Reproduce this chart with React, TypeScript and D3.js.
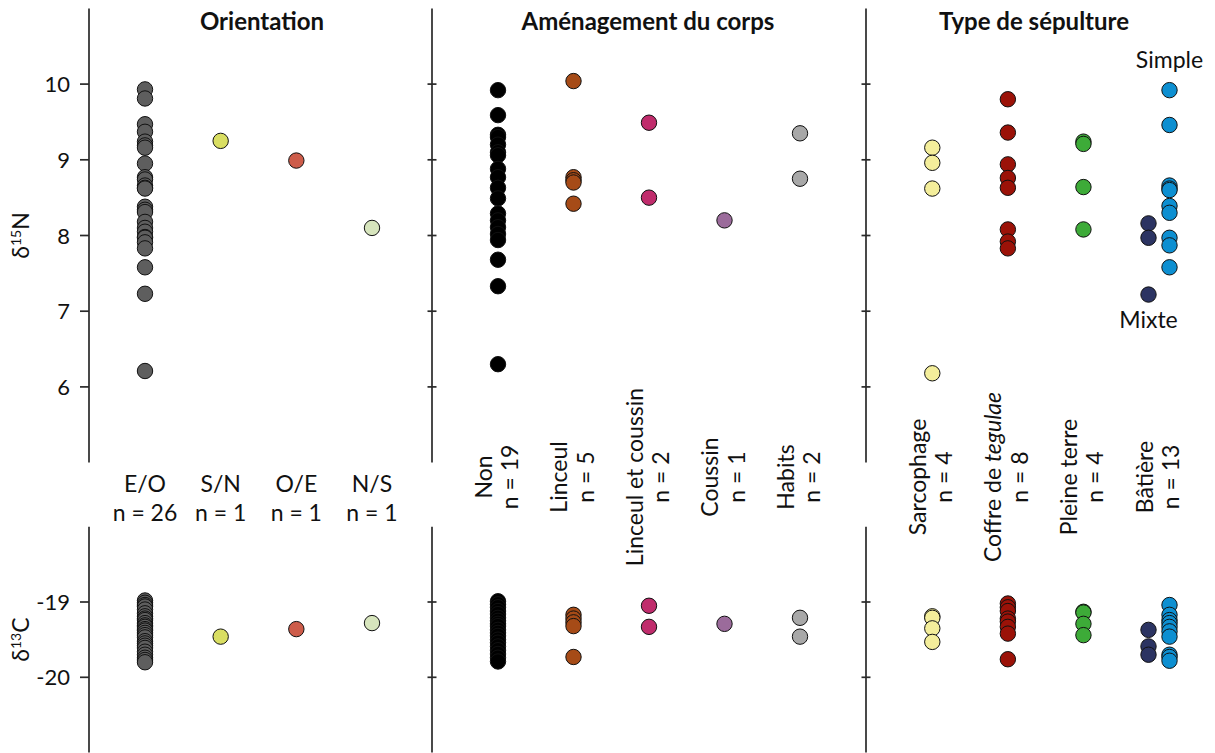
import React from "react";
import * as d3 from "d3";

// ---------- Data (δ15N top panel, δ13C bottom panel) ----------
const orientationCats = ["E/O", "S/N", "O/E", "N/S"];
const orientationCounts = [26, 1, 1, 1];
const corpsCats = ["Non", "Linceul", "Linceul et coussin", "Coussin", "Habits"];
const corpsCounts = [19, 5, 2, 1, 2];
const sepultureCats = ["Sarcophage", "Coffre de tegulae", "Pleine terre", "Bâtière"];
const sepultureCounts = [4, 8, 4, 13];

const nEO = [9.93, 9.81, 9.47, 9.37, 9.24, 9.19, 9.16, 8.95, 8.77, 8.74, 8.66, 8.63, 8.62, 8.38, 8.34, 8.31, 8.18, 8.10, 8.05, 7.98, 7.97, 7.91, 7.83, 7.58, 7.23, 6.21];
const cEO = [-18.98, -19.01, -19.04, -19.06, -19.1, -19.15, -19.19, -19.22, -19.24, -19.28, -19.31, -19.33, -19.36, -19.38, -19.41, -19.44, -19.47, -19.52, -19.55, -19.58, -19.61, -19.66, -19.7, -19.74, -19.77, -19.8];
const nSN = [9.25];
const cSN = [-19.46];
const nOE = [8.99];
const cOE = [-19.36];
const nNS = [8.1];
const cNS = [-19.28];

const nNon = [9.92, 9.59, 9.33, 9.3, 9.2, 9.1, 9.06, 8.88, 8.77, 8.63, 8.49, 8.29, 8.2, 8.11, 8.02, 7.94, 7.68, 7.33, 6.3];
const cNon = [-18.99, -19.03, -19.07, -19.12, -19.16, -19.21, -19.25, -19.29, -19.32, -19.37, -19.41, -19.45, -19.5, -19.54, -19.59, -19.64, -19.69, -19.74, -19.79];
const nLinceul = [10.04, 8.77, 8.73, 8.7, 8.42];
const cLinceul = [-19.17, -19.22, -19.27, -19.32, -19.73];
const nLinceulCoussin = [9.49, 8.5];
const cLinceulCoussin = [-19.05, -19.33];
const nCoussin = [8.2];
const cCoussin = [-19.29];
const nHabits = [9.35, 8.75];
const cHabits = [-19.21, -19.46];

const nSarcophage = [9.16, 8.96, 8.62, 6.18];
const cSarcophage = [-19.19, -19.21, -19.35, -19.53];
const nCoffre = [9.8, 9.36, 8.94, 8.76, 8.63, 8.08, 7.92, 7.83];
const cCoffre = [-19.02, -19.07, -19.12, -19.22, -19.26, -19.33, -19.42, -19.76];
const nPleine = [9.24, 9.21, 8.64, 8.08];
const cPleine = [-19.13, -19.14, -19.29, -19.44];
const nMixte = [8.16, 7.97, 7.22];
const cMixte = [-19.37, -19.59, -19.7];
const nSimple = [9.92, 9.46, 8.66, 8.62, 8.6, 8.39, 8.3, 7.97, 7.87, 7.58];
const cSimple = [-19.04, -19.17, -19.24, -19.28, -19.33, -19.39, -19.46, -19.7, -19.73, -19.78];

const nTicks = [6, 7, 8, 9, 10];
const cTicks = [-19, -20];

type Series = { panel: number; cat: string; sub: number; color: string; n: number[]; c: number[] };
const series: Series[] = [
  { panel: 0, cat: "E/O", sub: 0, color: "#5e5e5e", n: nEO, c: cEO },
  { panel: 0, cat: "S/N", sub: 0, color: "#d9de62", n: nSN, c: cSN },
  { panel: 0, cat: "O/E", sub: 0, color: "#cd5c4a", n: nOE, c: cOE },
  { panel: 0, cat: "N/S", sub: 0, color: "#d7e5bd", n: nNS, c: cNS },
  { panel: 1, cat: "Non", sub: 0, color: "#000000", n: nNon, c: cNon },
  { panel: 1, cat: "Linceul", sub: 0, color: "#a64b17", n: nLinceul, c: cLinceul },
  { panel: 1, cat: "Linceul et coussin", sub: 0, color: "#c02c6c", n: nLinceulCoussin, c: cLinceulCoussin },
  { panel: 1, cat: "Coussin", sub: 0, color: "#9b6b9b", n: nCoussin, c: cCoussin },
  { panel: 1, cat: "Habits", sub: 0, color: "#a8a8a8", n: nHabits, c: cHabits },
  { panel: 2, cat: "Sarcophage", sub: 0, color: "#f4ee9b", n: nSarcophage, c: cSarcophage },
  { panel: 2, cat: "Coffre de tegulae", sub: 0, color: "#9b1208", n: nCoffre, c: cCoffre },
  { panel: 2, cat: "Pleine terre", sub: 0, color: "#3dab38", n: nPleine, c: cPleine },
  { panel: 2, cat: "Bâtière", sub: -1, color: "#2c3462", n: nMixte, c: cMixte },
  { panel: 2, cat: "Bâtière", sub: 1, color: "#0d8fd1", n: nSimple, c: cSimple },
];

// ---------- Layout ----------
const W = 1215;
const H = 753;
const FONT = "Lato, 'Open Sans', sans-serif";
const FS = 23;
const FS_TICK = 22;
const R = 7.7;

const yN = d3.scaleLinear().domain([5, 11]).range([462.6, 8.4]);
const yC = d3.scaleLinear().domain([-21, -18]).range([752.6, 526.7]);

const xPanels = [
  d3.scalePoint<string>().domain(orientationCats).range([145, 372]),
  d3.scalePoint<string>().domain(corpsCats).range([498, 800]),
  d3.scalePoint<string>().domain(sepultureCats).range([932.3, 1159]),
];
const axisX = [89, 432, 866];
const titles = [
  { text: "Orientation", x: 262 },
  { text: "Aménagement du corps", x: 648 },
  { text: "Type de sépulture", x: 1034 },
];

export default function App() {
  const catX = (s: Series) => (xPanels[s.panel](s.cat) as number) + s.sub * 10.5;

  return (
    <svg width={W} height={H} style={{ position: "absolute", left: 0, top: 0, background: "#fff" }} fontFamily={FONT}>
      {/* axis & divider lines */}
      {axisX.map((x, i) => (
        <g key={"ax" + i} stroke="#2a2a2a" strokeWidth={1.7}>
          <line x1={x} x2={x} y1={yN(11)} y2={yN(5)} />
          <line x1={x} x2={x} y1={yC(-18)} y2={yC(-21)} />
          {nTicks.map((t) => (
            <line key={"tn" + t} x1={i === 0 ? x - 9 : x - 4.5} x2={i === 0 ? x : x + 4.5} y1={yN(t)} y2={yN(t)} />
          ))}
          {cTicks.map((t) => (
            <line key={"tc" + t} x1={i === 0 ? x - 9 : x - 4.5} x2={i === 0 ? x : x + 4.5} y1={yC(t)} y2={yC(t)} />
          ))}
        </g>
      ))}

      {/* tick labels */}
      {nTicks.map((t) => (
        <text key={"ln" + t} x={70} y={yN(t) + 8} textAnchor="end" fontSize={FS_TICK} fill="#111">
          {t}
        </text>
      ))}
      {cTicks.map((t) => (
        <text key={"lc" + t} x={70} y={yC(t) + 8} textAnchor="end" fontSize={FS_TICK} fill="#111">
          {t}
        </text>
      ))}

      {/* axis titles */}
      <text transform={`translate(29,${yN(8)}) rotate(-90)`} textAnchor="middle" fontSize={FS} fill="#111">
        δ<tspan fontSize={14} dy={-8}>15</tspan>
        <tspan dy={8}>N</tspan>
      </text>
      <text transform={`translate(29,${yC(-19.5)}) rotate(-90)`} textAnchor="middle" fontSize={FS} fill="#111">
        δ<tspan fontSize={14} dy={-8}>13</tspan>
        <tspan dy={8}>C</tspan>
      </text>

      {/* panel titles */}
      {titles.map((t) => (
        <text key={t.text} x={t.x} y={30} textAnchor="middle" fontSize={24} fontWeight="bold" fill="#111">
          {t.text}
        </text>
      ))}

      {/* orientation labels (horizontal) */}
      {orientationCats.map((c, i) => (
        <g key={"oc" + c} fontSize={FS} fill="#111" textAnchor="middle">
          <text x={xPanels[0](c)} y={492}>{c}</text>
          <text x={xPanels[0](c)} y={521}>{`n = ${orientationCounts[i]}`}</text>
        </g>
      ))}

      {/* rotated labels */}
      {corpsCats.map((c, i) => (
        <text key={"cc" + c} transform={`translate(${xPanels[1](c)},477) rotate(-90)`} fontSize={FS} fill="#111" textAnchor="middle">
          <tspan x={0} y={-6.5}>{c}</tspan>
          <tspan x={0} y={20}>{`n = ${corpsCounts[i]}`}</tspan>
        </text>
      ))}
      {sepultureCats.map((c, i) => (
        <text key={"sc" + c} transform={`translate(${xPanels[2](c)},477) rotate(-90)`} fontSize={FS} fill="#111" textAnchor="middle">
          {c === "Coffre de tegulae" ? (
            <tspan x={0} y={-6.5}>
              Coffre de <tspan fontStyle="italic">tegulae</tspan>
            </tspan>
          ) : (
            <tspan x={0} y={-6.5}>{c}</tspan>
          )}
          <tspan x={0} y={20}>{`n = ${sepultureCounts[i]}`}</tspan>
        </text>
      ))}

      {/* Simple / Mixte annotations */}
      <text x={(xPanels[2]("Bâtière") as number) + 10.5} y={68} textAnchor="middle" fontSize={FS} fill="#111">Simple</text>
      <text x={(xPanels[2]("Bâtière") as number) - 10.5} y={328} textAnchor="middle" fontSize={FS} fill="#111">Mixte</text>

      {/* points */}
      {series.map((s, si) => (
        <g key={"s" + si} fill={s.color} stroke="#111" strokeWidth={1}>
          {s.n.map((v, j) => (
            <circle key={"n" + j} cx={catX(s)} cy={yN(v)} r={R} />
          ))}
          {s.c.map((v, j) => (
            <circle key={"c" + j} cx={catX(s)} cy={yC(v)} r={R} />
          ))}
        </g>
      ))}
    </svg>
  );
}
